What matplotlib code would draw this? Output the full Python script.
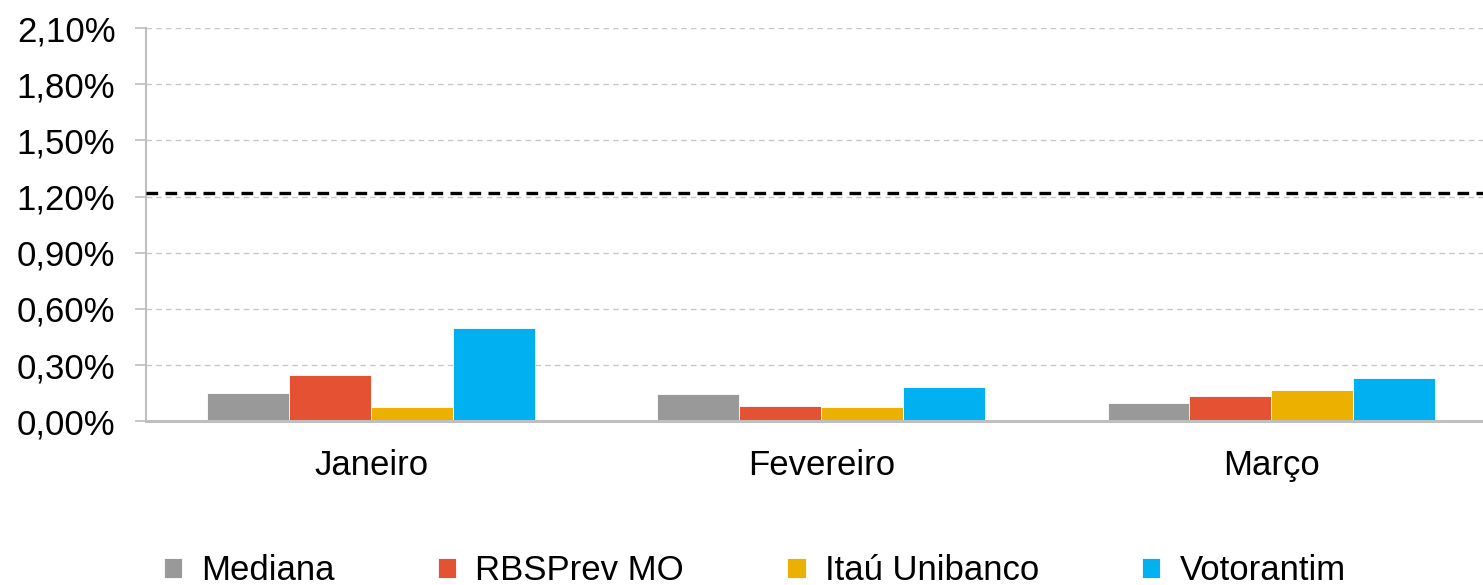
import matplotlib.pyplot as plt
import numpy as np

plt.rcParams['font.family'] = ['Liberation Sans', 'DejaVu Sans']

months = ['Janeiro', 'Fevereiro', 'Março']
series = ['Mediana', 'RBSPrev MO', 'Itaú Unibanco', 'Votorantim']
mediana = [0.151, 0.147, 0.100]
rbsprev = [0.245, 0.081, 0.137]
itau = [0.079, 0.074, 0.166]
votorantim = [0.497, 0.182, 0.230]
meta = 1.22
yticks = [0.0, 0.3, 0.6, 0.9, 1.2, 1.5, 1.8, 2.1]
colors = ['#999999', '#E55133', '#EBB000', '#00B0F0']


def main():
    fig = plt.figure(figsize=(14.83, 5.85), dpi=100)
    ax = fig.add_axes([146 / 1483, 1 - 421.3 / 585, 1 - 146 / 1483, (421.3 - 28) / 585])

    x = np.arange(len(months))
    w = 0.182
    values = [mediana, rbsprev, itau, votorantim]
    for i, (name, vals) in enumerate(zip(series, values)):
        ax.bar(x + (i - 1.5) * w, vals, width=w, color=colors[i], label=name,
               edgecolor='white', linewidth=0.6, zorder=3)

    ax.axhline(meta, color='black', linestyle=(0, (3.5, 2.2)), linewidth=2.4, zorder=4)

    ax.set_xlim(-0.5, 2.47)
    ax.set_ylim(0, 2.1)
    ax.set_yticks(yticks)
    ax.set_yticklabels([f'{v:.2f}%'.replace('.', ',') for v in yticks], fontsize=25)
    ax.set_xticks(x)
    ax.set_xticklabels(months, fontsize=25)
    ax.tick_params(axis='x', length=0, pad=20)
    ax.tick_params(axis='y', length=8, color='#bfbfbf', width=1.2, pad=14)

    ax.grid(axis='y', color='#c8c8c8', linestyle=(0, (4, 3)), linewidth=1.0, zorder=0)
    for s in ['top', 'right']:
        ax.spines[s].set_visible(False)
    ax.spines['left'].set_color('#bfbfbf')
    ax.spines['left'].set_linewidth(1.5)
    ax.spines['bottom'].set_color('#bfbfbf')
    ax.spines['bottom'].set_linewidth(2.2)
    ax.spines['bottom'].set_zorder(5)

    fig.legend(loc='center', bbox_to_anchor=(0.509, 0.024), ncol=4, frameon=False,
               fontsize=25, handlelength=0.52, handleheight=0.52, handletextpad=0.55,
               columnspacing=2.98)

    fig.savefig('out.png', dpi=100)
    plt.close(fig)


if __name__ == '__main__':
    main()
